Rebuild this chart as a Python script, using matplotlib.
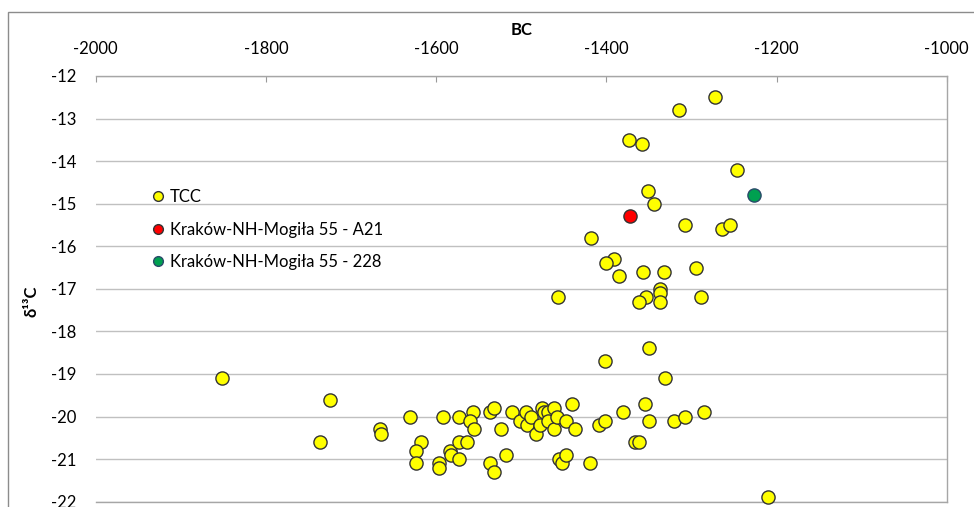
import matplotlib
matplotlib.use('Agg')
import matplotlib.pyplot as plt
from matplotlib.lines import Line2D
from matplotlib.patches import Rectangle

# TCC samples (year BC as negative, d13C)
tcc_x = [-1272, -1314, -1373, -1358, -1246, -1351, -1344, -1308, -1264, -1255,
         -1418, -1391, -1400, -1385, -1357, -1332, -1295, -1337, -1337, -1337,
         -1353, -1362, -1289, -1457,
         -1402, -1350, -1331, -1852, -1725,
         -1736, -1666, -1665, -1631, -1592, -1573, -1557, -1560, -1556, -1618,
         -1624, -1624, -1597, -1597, -1584, -1582, -1573, -1573, -1564,
         -1537, -1532, -1524, -1511, -1501, -1494, -1493, -1488, -1483, -1478,
         -1475, -1473, -1468, -1469, -1462, -1461, -1458, -1447, -1440, -1437,
         -1537, -1532, -1518, -1455, -1452, -1447, -1419,
         -1409, -1402, -1380, -1355, -1350, -1321, -1308, -1285, -1366, -1361,
         -1210]
tcc_y = [-12.5, -12.8, -13.5, -13.6, -14.2, -14.7, -15.0, -15.5, -15.6, -15.5,
         -15.8, -16.3, -16.4, -16.7, -16.6, -16.6, -16.5, -17.0, -17.1, -17.3,
         -17.2, -17.3, -17.2, -17.2,
         -18.7, -18.4, -19.1, -19.1, -19.6,
         -20.6, -20.3, -20.4, -20.0, -20.0, -20.0, -19.9, -20.1, -20.3, -20.6,
         -20.8, -21.1, -21.1, -21.2, -20.8, -20.9, -21.0, -20.6, -20.6,
         -19.9, -19.8, -20.3, -19.9, -20.1, -19.9, -20.2, -20.0, -20.4, -20.2,
         -19.8, -19.9, -19.9, -20.1, -19.8, -20.3, -20.0, -20.1, -19.7, -20.3,
         -21.1, -21.3, -20.9, -21.0, -21.1, -20.9, -21.1,
         -20.2, -20.1, -19.9, -19.7, -20.1, -20.1, -20.0, -19.9, -20.6, -20.6,
         -21.9]

a21_x = [-1372]
a21_y = [-15.3]
s228_x = [-1227]
s228_y = [-14.8]

x_ticks = [-2000, -1800, -1600, -1400, -1200, -1000]
y_ticks = list(range(-22, -11))

FONT = ['Lato', 'DejaVu Sans']
plt.rcParams['font.family'] = FONT
plt.rcParams['axes.unicode_minus'] = False

fig = plt.figure(figsize=(9.74, 5.07), dpi=100)
ax = fig.add_axes([95.7 / 974, 1 - 501.7 / 507, (946.7 - 95.7) / 974,
                   (501.7 - 76) / 507])

# outer chart frame
fig.patches.append(Rectangle((8.3 / 974, -0.2), 1.2, 1.2 - 11.7 / 507,
                             transform=fig.transFigure, fill=False,
                             edgecolor='#8c8c8c', linewidth=1.0))

mk = dict(s=90, linewidths=1.0, zorder=3, clip_on=False)
ax.scatter(tcc_x, tcc_y, color='#ffff00', edgecolor='#333333', **mk)
ax.scatter(a21_x, a21_y, color='#ff0000', edgecolor='#333333', **mk)
ax.scatter(s228_x, s228_y, color='#00a050', edgecolor='#2a4a6a', **mk)

ax.set_xlim(-2000, -1000)
ax.set_ylim(-22, -12)
ax.set_xticks(x_ticks)
ax.set_yticks(y_ticks)
ax.xaxis.tick_top()
ax.xaxis.set_label_position('top')
ax.tick_params(axis='x', direction='in', length=4, color='#999999',
               labelsize=12, pad=14)
ax.tick_params(axis='y', length=0, labelsize=12, pad=14)
ax.grid(axis='y', color='#c0c0c0', linewidth=1.0)
ax.set_axisbelow(True)
for side in ('top', 'right', 'bottom'):
    ax.spines[side].set_color('#a6a6a6')
    ax.spines[side].set_linewidth(1.0)
ax.spines['left'].set_visible(False)

ax.set_xlabel('BC', fontsize=12, fontweight='bold', labelpad=4)
ax.set_ylabel('δ¹³C', fontsize=12, fontweight='bold', family=FONT)
ax.yaxis.set_label_coords(-56 / 851, 0.47)

handles = [
    Line2D([], [], ls='', marker='o', markersize=7, markerfacecolor='#ffff00',
           markeredgecolor='#333333'),
    Line2D([], [], ls='', marker='o', markersize=7, markerfacecolor='#ff0000',
           markeredgecolor='#333333'),
    Line2D([], [], ls='', marker='o', markersize=7, markerfacecolor='#00a050',
           markeredgecolor='#2a4a6a'),
]
labels = ['TCC', 'Kraków-NH-Mogiła 55 - A21', 'Kraków-NH-Mogiła 55 - 228']
ax.legend(handles, labels, loc='upper left', frameon=False, fontsize=12,
          bbox_to_anchor=(143 / 974, 1 - 181 / 507),
          bbox_transform=fig.transFigure, handlelength=0.8,
          handletextpad=0.3, labelspacing=0.97, borderpad=0)

fig.savefig('out.png', dpi=100)
